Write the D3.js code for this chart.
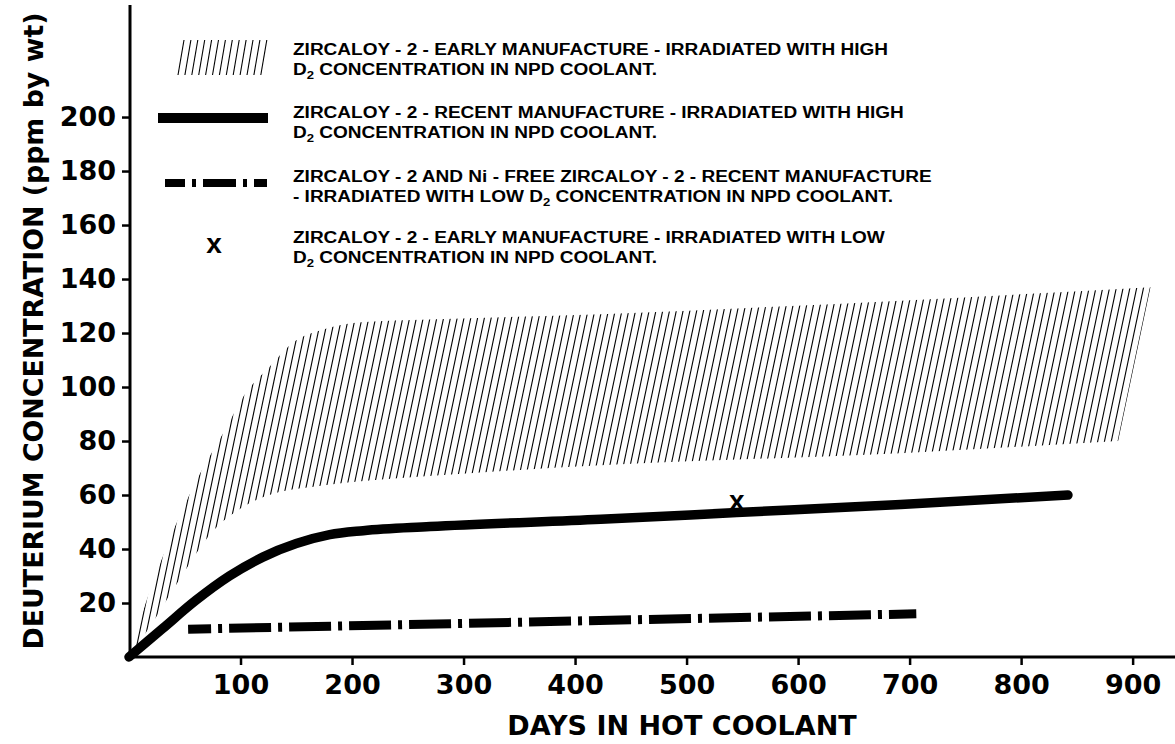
<!DOCTYPE html>
<html lang="en">
<head>
  <meta charset="UTF-8" />
  <title>Deuterium Concentration vs Days in Hot Coolant</title>
  <script src="https://d3js.org/d3.v7.min.js"></script>
  <style>
    body { margin: 0; background: #fff; }
    svg { display: block; }
    .axis text { font-family: "DejaVu Sans", sans-serif; font-weight: bold; font-size: 27px; fill: #000; }
    .axis line { stroke: #000; stroke-width: 2.5; }
    .title { font-family: "DejaVu Sans", sans-serif; font-weight: bold; font-size: 27px; fill: #000; }
    .legend text { font-family: "Liberation Sans", Arial, sans-serif; font-weight: bold; font-size: 16px; fill: #000; }
    text.mark-x, .legend text.mark-x { font-family: "Liberation Sans", Arial, sans-serif; font-weight: bold; font-size: 28px; fill: #000; }
  </style>
</head>
<body>
<div id="chart"></div>
<script>
  // ---------- DATA ----------
  // hatched band: early manufacture, high D2
  const upperDays = [0, 15, 33, 60, 86, 105, 125, 149, 172, 208, 269, 423, 692, 916];
  const upperVals = [0, 20, 40, 65, 84, 98, 107, 117, 121, 124, 125, 127, 132, 137];
  const lowerDays = [0, 20, 45, 74, 104, 134, 164, 194, 269, 423, 692, 887];
  const lowerVals = [0, 12, 28.5, 46, 56, 61, 63, 64.5, 67, 71, 75.5, 80];

  // solid: recent manufacture, high D2
  const solidDays = [0, 30, 60, 90, 120, 150, 180, 210, 270, 423, 545, 692, 842];
  const solidVals = [0, 10.5, 21, 30, 37, 42, 45.3, 46.8, 48.3, 51, 53.5, 56.5, 60];

  // dash-dot: Ni-free / recent manufacture, low D2
  const dashDays = [53, 706];
  const dashVals = [10.3, 16];

  // single point: early manufacture, low D2
  const pointDays = [545];
  const pointVals = [57];

  const xTicks = [100, 200, 300, 400, 500, 600, 700, 800, 900];
  const yTicks = [20, 40, 60, 80, 100, 120, 140, 160, 180, 200];

  const legendLabels = [
    ["ZIRCALOY - 2 - EARLY MANUFACTURE - IRRADIATED WITH HIGH", "D|2| CONCENTRATION IN NPD COOLANT."],
    ["ZIRCALOY - 2 - RECENT MANUFACTURE - IRRADIATED WITH HIGH", "D|2| CONCENTRATION IN NPD COOLANT."],
    ["ZIRCALOY - 2 AND Ni - FREE ZIRCALOY - 2 - RECENT MANUFACTURE", "- IRRADIATED WITH LOW D|2| CONCENTRATION IN NPD COOLANT."],
    ["ZIRCALOY - 2 - EARLY MANUFACTURE - IRRADIATED WITH LOW", "D|2| CONCENTRATION IN NPD COOLANT."]
  ];

  // ---------- SETUP ----------
  const width = 1175, height = 744;
  const svg = d3.select("#chart").append("svg")
    .attr("width", width).attr("height", height);

  const x = d3.scaleLinear().domain([0, 938]).range([129, 1175]);
  const y = d3.scaleLinear().domain([0, 241.5]).range([657, 5]);

  const zip = (a, b) => a.map((d, i) => [d, b[i]]);
  const line = d3.line().x(d => x(d[0])).y(d => y(d[1])).curve(d3.curveMonotoneX);

  // ---------- HATCHED BAND ----------
  const upper = zip(upperDays, upperVals);
  const lower = zip(lowerDays, lowerVals);
  const bandPath = line(upper) + line(lower.slice().reverse()).replace(/^M/, "L") + "Z";

  svg.append("clipPath").attr("id", "band").append("path").attr("d", bandPath);

  const slant = 0.21, spacing = 6.8;
  const xr = x(upperDays[upperDays.length - 1]), yr = y(upperVals[upperVals.length - 1]);
  const hatchIdx = d3.range(0, Math.ceil((xr - 60) / spacing) + 1);
  svg.append("g").attr("clip-path", "url(#band)")
    .selectAll("line").data(hatchIdx).join("line")
    .attr("x1", i => xr - i * spacing + slant * (yr - 250)).attr("y1", 250)
    .attr("x2", i => xr - i * spacing - slant * (670 - yr)).attr("y2", 670)
    .attr("stroke", "#000").attr("stroke-width", 1.1);

  // ---------- LINES ----------
  svg.append("path")
    .attr("d", line(zip(solidDays, solidVals)))
    .attr("fill", "none").attr("stroke", "#000")
    .attr("stroke-width", 9.5).attr("stroke-linecap", "round");

  svg.append("path")
    .attr("d", d3.line().x(d => x(d[0])).y(d => y(d[1]))(zip(dashDays, dashVals)))
    .attr("fill", "none").attr("stroke", "#000")
    .attr("stroke-width", 9)
    .attr("stroke-dasharray", "42 7 4 7").attr("stroke-dashoffset", 19);

  svg.selectAll(".pt").data(zip(pointDays, pointVals)).join("text")
    .attr("class", "mark-x")
    .attr("x", d => x(d[0])).attr("y", d => y(d[1]) + 7)
    .attr("text-anchor", "middle").text("x");

  // ---------- AXES ----------
  const yAxis = svg.append("g").attr("class", "axis")
    .attr("transform", "translate(130,0)")
    .call(d3.axisLeft(y).tickValues(yTicks).tickSize(8).tickPadding(6));
  yAxis.select(".domain").remove();

  const xAxis = svg.append("g").attr("class", "axis")
    .attr("transform", "translate(0,657)")
    .call(d3.axisBottom(x).tickValues(xTicks).tickSize(8).tickPadding(10));
  xAxis.select(".domain").remove();

  svg.append("line").attr("x1", 130).attr("x2", 130).attr("y1", 5).attr("y2", 658)
    .attr("stroke", "#000").attr("stroke-width", 3);
  svg.append("line").attr("x1", 128).attr("x2", 1175).attr("y1", 657).attr("y2", 657)
    .attr("stroke", "#000").attr("stroke-width", 3);

  svg.append("text").attr("class", "title")
    .attr("x", 682).attr("y", 735).attr("text-anchor", "middle")
    .text("DAYS IN HOT COOLANT");

  svg.append("text").attr("class", "title")
    .attr("transform", "translate(43,331) rotate(-90)")
    .attr("text-anchor", "middle")
    .attr("textLength", 637).attr("lengthAdjust", "spacingAndGlyphs")
    .text("DEUTERIUM CONCENTRATION (ppm by wt)");

  // ---------- LEGEND ----------
  const legend = svg.append("g").attr("class", "legend");

  // hatch swatch
  legend.append("g").selectAll("line").data(d3.range(13)).join("line")
    .attr("x1", i => 178 + i * 6.9).attr("y1", 75)
    .attr("x2", i => 184 + i * 6.9).attr("y2", 40)
    .attr("stroke", "#000").attr("stroke-width", 1.1);

  legend.append("line").attr("x1", 158).attr("x2", 268).attr("y1", 118).attr("y2", 118)
    .attr("stroke", "#000").attr("stroke-width", 10);

  legend.append("line").attr("x1", 165).attr("x2", 267).attr("y1", 183).attr("y2", 183)
    .attr("stroke", "#000").attr("stroke-width", 8)
    .attr("stroke-dasharray", "33 7 4 7").attr("stroke-dashoffset", 13);

  legend.append("text").attr("class", "mark-x")
    .attr("x", 214).attr("y", 253).attr("text-anchor", "middle").text("x");

  const rowBase = [55, 118, 182, 243];
  const texts = [];
  legendLabels.forEach((rows, r) => {
    rows.forEach((s, k) => {
      const t = legend.append("text").attr("x", 293).attr("y", rowBase[r] + k * 20);
      const parts = s.split("|");
      parts.forEach((p, j) => {
        const sub = j % 2 === 1;
        t.append("tspan")
          .attr("dy", j === 0 ? 0 : (sub ? 4 : -4))
          .style("font-size", sub ? "11px" : null)
          .text(p);
      });
      texts.push(t);
    });
  });

  // stretch the legend type to the wide face of the original
  const k = 595 / texts[0].node().getComputedTextLength();
  texts.forEach(t => {
    const w = t.node().getComputedTextLength();
    t.attr("textLength", w * k).attr("lengthAdjust", "spacingAndGlyphs");
  });
</script>
</body>
</html>
